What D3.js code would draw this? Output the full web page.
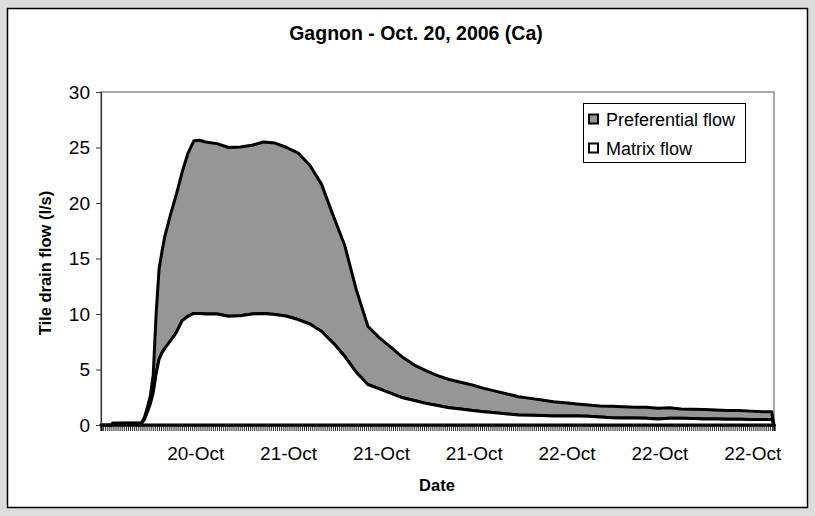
<!DOCTYPE html>
<html><head><meta charset="utf-8">
<script src="https://cdn.jsdelivr.net/npm/d3@7/dist/d3.min.js"></script>
<style>
html,body{margin:0;padding:0;background:#dcdcdc;}
svg{display:block;font-family:"Liberation Sans",Arial,sans-serif;}
</style></head><body>
<script>
// ---- data ----
const chartTitle = "Gagnon - Oct. 20, 2006 (Ca)";
const startTime = "2006-10-20T07:50:00";
const endHours = 58;
// hours elapsed since startTime
const hours = [0,0.9,1.0,3.5,3.75,4.0,4.25,4.5,4.75,5.0,5.25,5.5,6.0,6.5,7.0,7.5,8.0,8.5,9,10,11,12,13,14,15,16,17,18,19,20,21,22,23,24,25,26,27,28,29,30,31,32,33,34,35,36,37,38,39,40,41,42,43,44,45,46,47,48,49,50,51,52,53,54,55,56,57,57.8,58];
const matrixFlow = [0,0,0.15,0.15,0.5,1.2,1.9,2.9,4.6,5.9,6.5,6.9,7.6,8.35,9.4,9.8,10.05,10.05,10.0,10.0,9.8,9.85,10.0,10.05,9.95,9.8,9.5,9.1,8.45,7.4,6.2,4.75,3.65,3.25,2.85,2.45,2.2,1.95,1.75,1.55,1.45,1.3,1.2,1.1,1.0,0.9,0.88,0.85,0.82,0.8,0.8,0.78,0.72,0.65,0.62,0.62,0.6,0.55,0.6,0.6,0.58,0.55,0.55,0.52,0.52,0.5,0.5,0.5,0];
const preferentialFlow = [0,0,0,0.05,0.2,0.4,0.7,1.6,5.4,8.1,9.1,10.1,11.4,12.45,13.4,14.7,15.55,15.6,15.5,15.35,15.2,15.2,15.2,15.45,15.45,15.2,15.0,14.3,13.25,11.5,10.0,7.45,5.25,4.6,4.15,3.65,3.2,2.95,2.7,2.55,2.4,2.3,2.1,1.95,1.8,1.65,1.52,1.4,1.28,1.2,1.1,1.02,1.0,1.03,1.03,0.98,1.0,0.95,0.95,0.85,0.84,0.85,0.8,0.78,0.78,0.75,0.7,0.7,0];
const yTicks = [0,5,10,15,20,25,30];
const labelHours = [8.1667,16.1667,24.1667,32.1667,40.1667,48.1667,56.1667]; // 16:00, 00:00, 08:00 ...
const seriesNames = ["Preferential flow","Matrix flow"];
const seriesColors = ["#969696","#ffffff"];

// ---- layout ----
const W = 815, H = 516;
const plot = {left:101, right:774, top:92, bottom:425};

const svg = d3.select("body").append("svg").attr("width",W).attr("height",H);
svg.append("rect").attr("x",0).attr("y",0).attr("width",W).attr("height",H).attr("fill","#dcdcdc");
svg.append("rect").attr("x",7.5).attr("y",8.5).attr("width",800).attr("height",499)
  .attr("fill","#fff").attr("stroke","#000").attr("stroke-width",1.5);

const t0 = new Date(startTime);
const toDate = h => new Date(t0.getTime() + h*3600000);
const x = d3.scaleTime().domain([toDate(0), toDate(endHours)]).range([plot.left, plot.right]);
const y = d3.scaleLinear().domain([0,30]).range([plot.bottom, plot.top]);

const data = hours.map((h,i)=>({t:toDate(h), m:matrixFlow[i], p:preferentialFlow[i]}));

// plot area border
svg.append("rect").attr("x",plot.left).attr("y",plot.top)
  .attr("width",plot.right-plot.left).attr("height",plot.bottom-plot.top)
  .attr("fill","#fff").attr("stroke","#8c8c8c").attr("stroke-width",1.5);

// areas
const areaM = d3.area().x(d=>x(d.t)).y0(y(0)).y1(d=>y(d.m));
const areaP = d3.area().x(d=>x(d.t)).y0(d=>y(d.m)).y1(d=>y(d.m+d.p));
svg.append("path").datum(data).attr("d",areaP).attr("fill",seriesColors[0])
  .attr("stroke","#000").attr("stroke-width",3).attr("stroke-linejoin","round");
svg.append("path").datum(data).attr("d",areaM).attr("fill",seriesColors[1])
  .attr("stroke","#000").attr("stroke-width",3).attr("stroke-linejoin","round");

// y axis
const yAxis = svg.append("g").attr("transform",`translate(${plot.left},0)`)
  .call(d3.axisLeft(y).tickValues(yTicks).tickSize(5).tickPadding(6).tickFormat(d3.format("d")));
yAxis.select(".domain").attr("stroke","#333").attr("stroke-width",1.2);
yAxis.selectAll(".tick line").attr("stroke","#333");
yAxis.selectAll("text").attr("font-size","19px").attr("fill","#000")
  .attr("font-family","'Liberation Sans',Arial,sans-serif");

// x axis: minor ticks every 10 min
const minorTicks = d3.timeMinute.every(10).range(toDate(0), toDate(endHours+0.01));
const xAxis = svg.append("g").attr("transform",`translate(0,${plot.bottom})`)
  .call(d3.axisBottom(x).tickValues(minorTicks).tickSize(6).tickFormat(""));
xAxis.select(".domain").attr("stroke","#000").attr("stroke-width",2.2);
xAxis.selectAll(".tick line").attr("stroke","#000").attr("stroke-width",0.8);

// x labels
const fmt = d3.timeFormat("%-d-%b");
svg.append("g").selectAll("text").data(labelHours).join("text")
  .attr("x",h=>x(toDate(h))).attr("y",460).attr("text-anchor","middle")
  .attr("font-size","19px").text(h=>fmt(toDate(h)));

// titles
svg.append("text").attr("x",416).attr("y",40).attr("text-anchor","middle")
  .attr("font-size","19.5px").attr("font-weight","bold").text(chartTitle);
svg.append("text").attr("x",437).attr("y",491).attr("text-anchor","middle")
  .attr("font-size","16.5px").attr("font-weight","bold").text("Date");
svg.append("text").attr("transform","translate(51,263) rotate(-90)").attr("text-anchor","middle")
  .attr("font-size","16.5px").attr("font-weight","bold").text("Tile drain flow (l/s)");

// legend
const lg = svg.append("g");
lg.append("rect").attr("x",583.5).attr("y",103.5).attr("width",162).attr("height",59)
  .attr("fill","#fff").attr("stroke","#000").attr("stroke-width",1);
seriesNames.forEach((n,i)=>{
  const cy = 119 + i*29;
  lg.append("rect").attr("x",589).attr("y",cy-4.5).attr("width",9).attr("height",9)
    .attr("fill",seriesColors[i]).attr("stroke","#000").attr("stroke-width",2);
  lg.append("text").attr("x",606).attr("y",cy+6.5).attr("font-size","18px").text(n);
});
</script>
</body></html>
